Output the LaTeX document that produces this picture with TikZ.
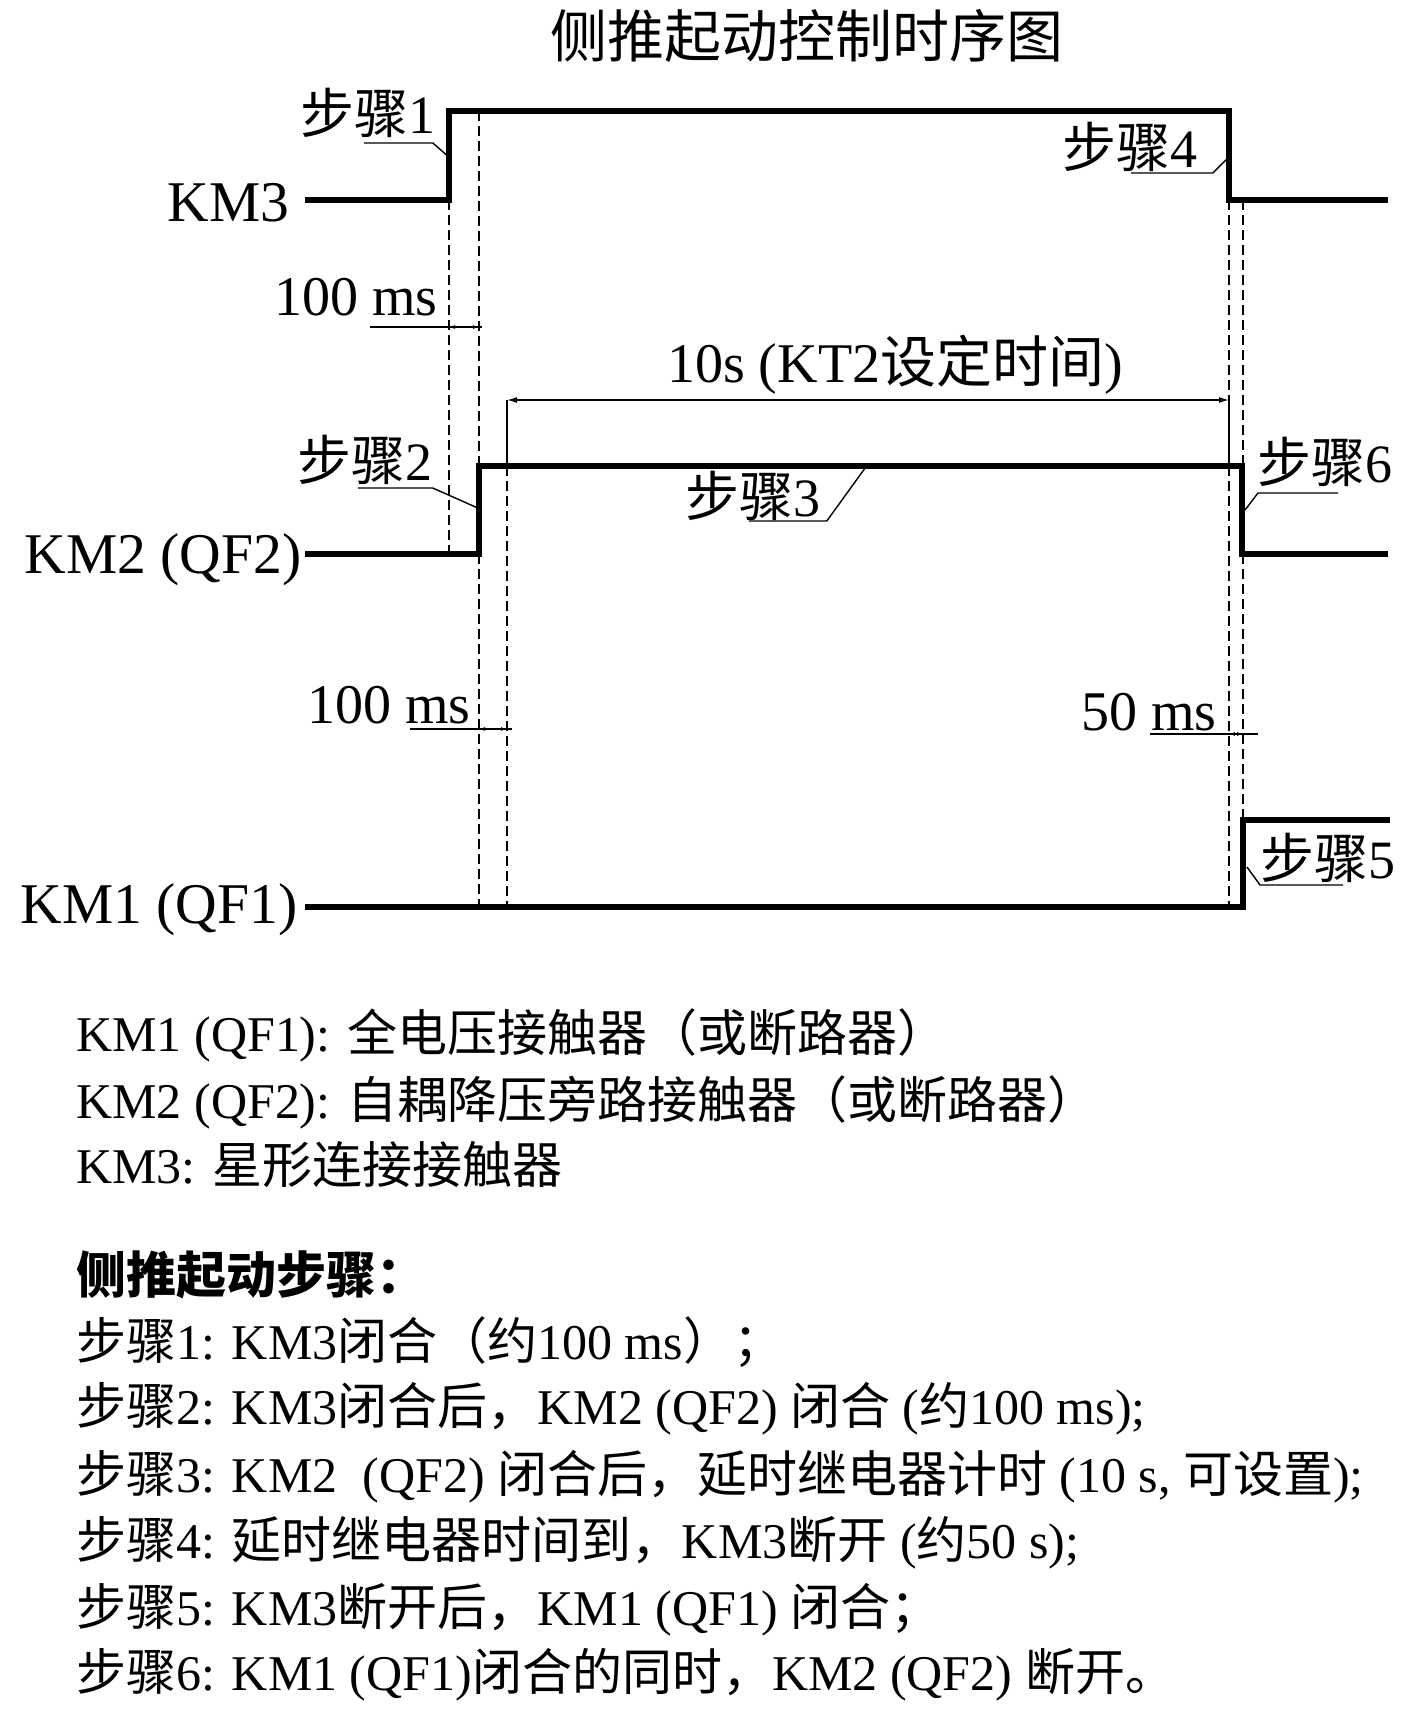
\documentclass[tikz,border=0pt]{standalone}
\usepackage{fontspec}
\setmainfont{Liberation Serif}
\newfontfamily\cjk{Noto Sans CJK SC}
\usetikzlibrary{arrows.meta}
\newcommand{\zh}[1]{{\cjk #1}}

\begin{document}
\begin{tikzpicture}[x=0.5pt,y=-0.5pt,
  sig/.style={line width=3pt},
  guide/.style={line width=1pt, dash pattern=on 5pt off 2.5pt},
  thin/.style={line width=0.7pt},
  tip/.style={thin, {Latex[length=3pt,width=2pt]}-{Latex[length=3pt,width=2pt]}},
  lbl/.style={inner sep=0pt, font=\fontsize{28}{34}\selectfont},
  sgn/.style={inner sep=0pt, anchor=base east, font=\fontsize{28.8}{35}\selectfont},
  stp/.style={inner sep=0pt, anchor=base west, font=\fontsize{27}{32}\selectfont},
  txt/.style={inner sep=0pt, anchor=base west, font=\fontsize{25}{30}\selectfont}]
\useasboundingbox (0,0) rectangle (1415,1710);

\node[lbl, font=\fontsize{28.5}{34}\selectfont] (title) at (807,36) {\zh{侧推起动控制时序图}};

\node[sgn] (km3) at (290,221) {KM3};
\node[sgn] (km2) at (302,573) {KM2 (QF2)};
\node[sgn] (km1) at (298,923) {KM1 (QF1)};

\draw[sig] (305,200) -- (449,200) -- (449,111) -- (1229,111) -- (1229,200) -- (1388,200);
\draw[sig] (305,554) -- (479,554) -- (479,466) -- (1242,466) -- (1242,554) -- (1388,554);
\draw[sig] (305,907) -- (1243,907) -- (1243,820) -- (1390,820);

\draw[guide] (449,200) -- (449,554);
\draw[guide] (479,111) -- (479,466) (479,554) -- (479,907);
\draw[guide] (507,466) -- (507,907);
\draw[guide] (1229,200) -- (1229,400) (1229,466) -- (1229,907);
\draw[guide] (1243,200) -- (1243,466) (1243,554) -- (1243,820);
\draw[thin] (507,400) -- (507,466) (1229,400) -- (1229,466);

\draw[thin, {Latex[length=5pt,width=3pt]}-{Latex[length=5pt,width=3pt]}] (507,400) -- (1229,400);
\node[lbl, anchor=base] (kt2) at (895,382) {10s (KT2\zh{设定时间})};

\node[lbl, anchor=base east] (t1) at (438,315) {100 ms};
\draw[thin] ([shift={(-68,12)}]t1.base east) -- (482,327);
\draw[tip] (449,327) -- (479,327);
\node[lbl, anchor=base east] (t2) at (471,723) {100 ms};
\draw[thin] ([shift={(-61,6)}]t2.base east) -- (512,729);
\draw[tip] (479,729) -- (507,729);
\node[lbl, anchor=base east] (t3) at (1217,730) {50 ms};
\draw[thin] ([shift={(-67,4)}]t3.base east) -- (1258,734);
\draw[tip] (1229,734) -- (1243,734);

\node[stp] (s1) at (300,133) {\zh{步骤}1};
\coordinate (p1) at (450,158);
\draw[thin] ([shift={(-72,10)}]s1.base east) -- ([shift={(-3,10)}]s1.base east) -- (p1);
\node[stp] (s2) at (297,480) {\zh{步骤}2};
\coordinate (p2) at (480,509);
\draw[thin] ([shift={(-75,8)}]s2.base east) -- ([shift={(0,8)}]s2.base east) -- (p2);
\node[stp] (s3) at (685,516) {\zh{步骤}3};
\coordinate (p3) at (868,464);
\draw[thin] ([shift={(-72,5)}]s3.base east) -- ([shift={(6,5)}]s3.base east) -- (p3);
\node[stp] (s4) at (1062,167) {\zh{步骤}4};
\coordinate (p4) at (1228,158);
\draw[thin] ([shift={(-67,6)}]s4.base east) -- ([shift={(15,6)}]s4.base east) -- (p4);
\node[stp] (s5) at (1260,878) {\zh{步骤}5};
\coordinate (p5) at (1247,867);
\draw[thin] (p5) -- ([shift={(0,7)}]s5.base west) -- ([shift={(83,7)}]s5.base west);
\node[stp] (s6) at (1257,482) {\zh{步骤}6};
\coordinate (p6) at (1245,510);
\draw[thin] (p6) -- ([shift={(1,11)}]s6.base west) -- ([shift={(81,11)}]s6.base west);

\node[txt] (l1) at (76,1051) {KM1 (QF1): \zh{全电压接触器（或断路器）}};
\node[txt] (l2) at (76,1118) {KM2 (QF2): \zh{自耦降压旁路接触器（或断路器）}};
\node[txt] (l3) at (76,1183) {KM3: \zh{星形连接接触器}};
\node[txt] (l4) at (76,1293) {{\cjk\bfseries 侧推起动步骤：}};
\node[txt] (l5) at (76,1359) {\zh{步骤}1: KM3\zh{闭合（约}100 ms\zh{）；}};
\node[txt] (l6) at (76,1424) {\zh{步骤}2: KM3\zh{闭合后，}KM2 (QF2) \zh{闭合} (\zh{约}100 ms);};
\node[txt] (l7) at (76,1492) {\zh{步骤}3: KM2\ \ (QF2) \zh{闭合后，延时继电器计时} (10 s, \zh{可设置});};
\node[txt] (l8) at (76,1558) {\zh{步骤}4: \zh{延时继电器时间到，}KM3\zh{断开} (\zh{约}50 s);};
\node[txt] (l9) at (76,1625) {\zh{步骤}5: KM3\zh{断开后，}KM1 (QF1) \zh{闭合；}};
\node[txt] (l10) at (76,1690) {\zh{步骤}6: KM1 (QF1)\zh{闭合的同时，}KM2 (QF2) \zh{断开。}};
\end{tikzpicture}
\end{document}
